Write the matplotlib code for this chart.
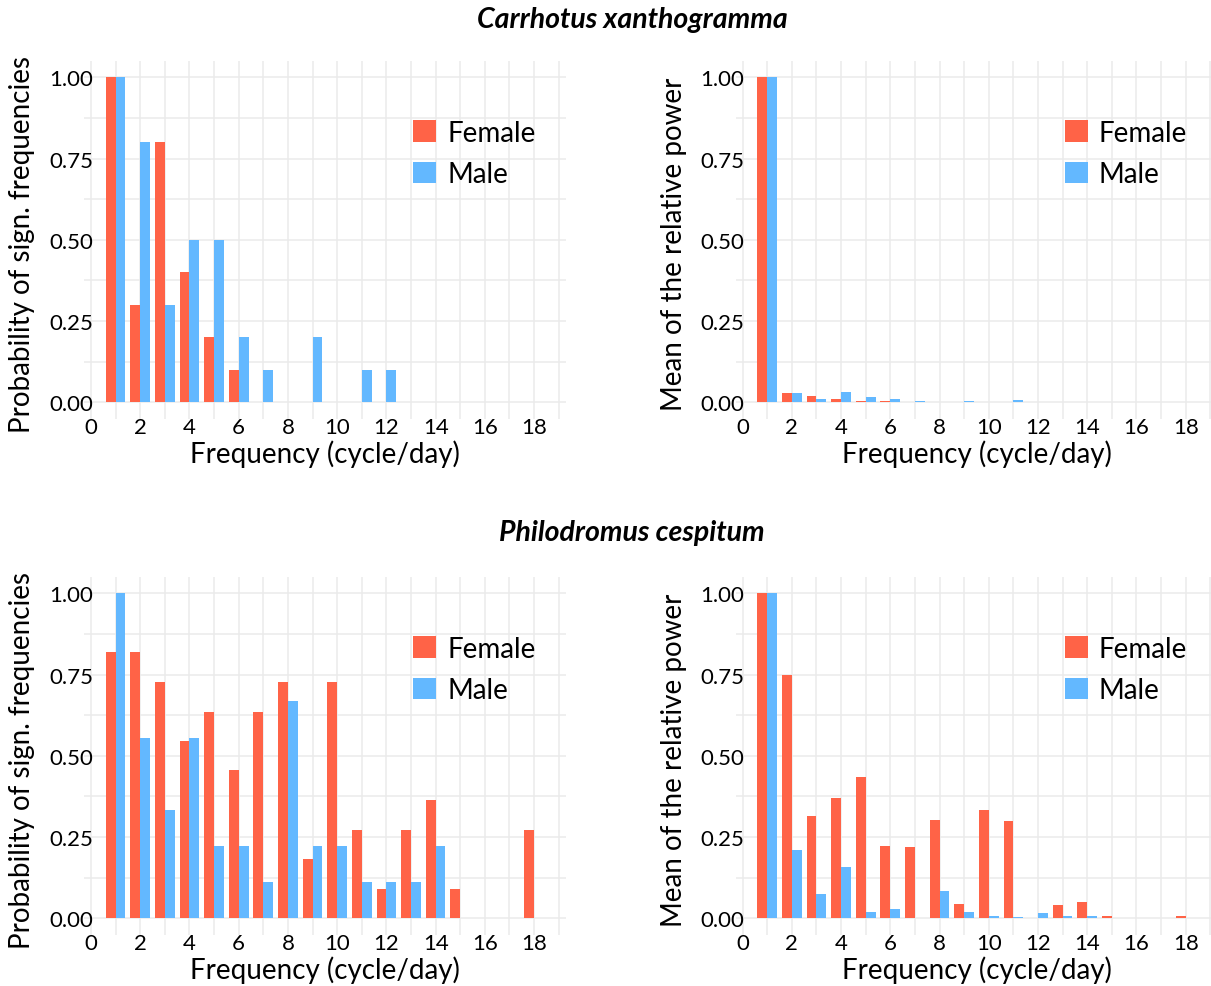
import numpy as np
import matplotlib
matplotlib.use("Agg")
import matplotlib.pyplot as plt
from matplotlib.ticker import MultipleLocator, FormatStrFormatter

plt.rcParams['font.family'] = ['Lato', 'DejaVu Sans']

# frequencies 1..18 cycle/day
freq = np.arange(1, 19)

# Carrhotus xanthogramma
fem_prob_c = [1.0, 0.3, 0.8, 0.4, 0.2, 0.1, 0, 0, 0, 0, 0, 0, 0, 0, 0, 0, 0, 0]
male_prob_c = [1.0, 0.8, 0.3, 0.5, 0.5, 0.2, 0.1, 0, 0.2, 0, 0.1, 0.1, 0, 0, 0, 0, 0, 0]
fem_pow_c = [1.0, 0.027, 0.018, 0.011, 0.003, 0.003, 0, 0, 0, 0, 0, 0, 0, 0, 0, 0, 0, 0]
male_pow_c = [1.0, 0.030, 0.011, 0.033, 0.015, 0.009, 0.003, 0, 0.003, 0, 0.006, 0, 0, 0, 0, 0, 0, 0]

# Philodromus cespitum
fem_prob_p = [0.818, 0.818, 0.727, 0.545, 0.636, 0.455, 0.636, 0.727, 0.182,
              0.727, 0.273, 0.091, 0.273, 0.364, 0.091, 0, 0, 0.273]
male_prob_p = [1.0, 0.556, 0.333, 0.556, 0.222, 0.222, 0.111, 0.667, 0.222,
               0.222, 0.111, 0.111, 0.111, 0.222, 0, 0, 0, 0]
fem_pow_p = [1.0, 0.748, 0.314, 0.369, 0.434, 0.222, 0.218, 0.302, 0.045,
             0.332, 0.298, 0.002, 0.042, 0.051, 0.007, 0, 0, 0.007]
male_pow_p = [1.0, 0.209, 0.076, 0.157, 0.020, 0.029, 0.002, 0.085, 0.020,
              0.007, 0.004, 0.016, 0.007, 0.007, 0, 0, 0, 0]

species = ["Carrhotus xanthogramma", "Philodromus cespitum"]
ylabels = ["Probability of sign. frequencies", "Mean of the relative power"]

FEMALE = "#FF6347"
MALE = "#63B8FF"
GRID = "#EBEBEB"

W, H = 1211, 987
fig = plt.figure(figsize=(W / 100, H / 100), dpi=100)

# panel boxes in pixels: left, top
lefts = [83.9, 735.5]
tops = [62, 578]
pw, ph = 481.9, 357.5

data = [[(fem_prob_c, male_prob_c), (fem_pow_c, male_pow_c)],
        [(fem_prob_p, male_prob_p), (fem_pow_p, male_pow_p)]]

for r in range(2):
    for c in range(2):
        ax = fig.add_axes([lefts[c] / W, 1 - (tops[r] + ph) / H, pw / W, ph / H])
        fem, male = data[r][c]
        ax.bar(freq - 0.2, fem, width=0.4, color=FEMALE, label="Female")
        ax.bar(freq + 0.2, male, width=0.4, color=MALE, label="Male")
        ax.set_xlim(-0.29, 19.29)
        ax.set_ylim(-0.05, 1.05)
        ax.xaxis.set_major_locator(MultipleLocator(2))
        ax.xaxis.set_minor_locator(MultipleLocator(1))
        ax.yaxis.set_major_locator(MultipleLocator(0.25))
        ax.yaxis.set_minor_locator(MultipleLocator(0.125))
        ax.yaxis.set_major_formatter(FormatStrFormatter("%.2f"))
        ax.grid(True, which="both", color=GRID, linewidth=1.1)
        ax.set_axisbelow(True)
        for s in ax.spines.values():
            s.set_visible(False)
        ax.tick_params(which="both", length=0, labelsize=16)
        ax.tick_params(axis="y", pad=-6.5)
        ax.tick_params(axis="x", pad=-1)
        ax.set_xlabel("Frequency (cycle/day)", fontsize=20)
        ax.xaxis.set_label_coords(0.5, -0.098)
        ax.xaxis.label.set_va("center")
        ax.set_ylabel(ylabels[c], fontsize=20)
        ax.yaxis.set_label_coords(-0.128, 0.49)
        ax.yaxis.label.set_va("center")
        ax.legend(loc="upper left", bbox_to_anchor=(0.683, 0.836), frameon=False,
                  fontsize=20, borderpad=0, borderaxespad=0,
                  handlelength=0.83, handleheight=0.8,
                  handletextpad=0.4, labelspacing=0.57)

    fig.text(632 / W, 1 - (20 + r * 513) / H, species[r], ha="center", va="center",
             fontsize=20.5, fontweight="bold", fontstyle="italic")

fig.savefig("out.png", dpi=100)
